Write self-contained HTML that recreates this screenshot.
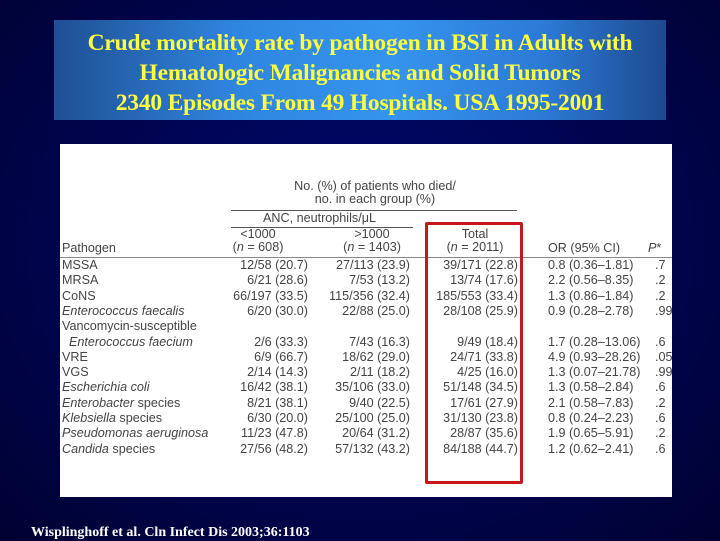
<!DOCTYPE html>
<html><head><meta charset="utf-8"><style>
body{margin:0;width:720px;height:540px;overflow:hidden;background:radial-gradient(ellipse at 50% 45%,#00086e 0%,#00044e 55%,#000232 100%);position:relative;font-family:"Liberation Sans",sans-serif}
#title{position:absolute;left:54px;top:20px;width:612px;height:100px;background:linear-gradient(90deg,#1f4f93 0%,#2f86e0 30%,#3594ee 55%,#2c7ad6 80%,#1d4a8e 100%);color:#ffff40;font-family:"Liberation Serif",serif;font-weight:bold;font-size:23.5px;line-height:30px;text-align:center;padding-top:8px;box-sizing:border-box;letter-spacing:-0.2px}
#tbl{position:absolute;left:60px;top:144px;width:612px;height:353px;background:#fff;color:#444;font-size:12.6px}
.c{position:absolute;white-space:nowrap}
.r{text-align:right}
.ctr{text-align:center;transform:translateX(-50%)}
.ln{position:absolute;height:1px;background:#555}
#box{position:absolute;left:365px;top:78px;width:92px;height:256px;border:3px solid #c8161d;border-radius:2px}
#cite{position:absolute;left:31px;top:525px;color:#fff;font-family:"Liberation Serif",serif;font-weight:bold;font-size:14px}
i{font-style:italic}
</style></head><body>
<div id="title">Crude mortality rate by pathogen in BSI in Adults with<br>Hematologic Malignancies and Solid Tumors<br>2340 Episodes From 49 Hospitals. USA 1995-2001</div>
<div id="tbl">
<div class="c ctr" style="left:315px;top:36px;line-height:13px">No. (%) of patients who died/<br>no. in each group (%)</div>
<div class="ln" style="left:171px;top:66px;width:286px"></div>
<div class="c" style="left:203px;top:67px">ANC, neutrophils/μL</div>
<div class="ln" style="left:171px;top:83px;width:182px"></div>
<div class="c ctr" style="left:198px;top:84px;line-height:13px">&lt;1000<br>(<i>n</i> = 608)</div>
<div class="c ctr" style="left:312px;top:84px;line-height:13px">&gt;1000<br>(<i>n</i> = 1403)</div>
<div class="c ctr" style="left:415px;top:84px;line-height:13px">Total<br>(<i>n</i> = 2011)</div>
<div class="c" style="left:2px;top:97px">Pathogen</div>
<div class="c" style="left:488px;top:97px">OR (95% CI)</div>
<div class="c" style="left:588px;top:97px"><i>P</i>*</div>
<div class="ln" style="left:0;top:113px;width:612px;background:#888"></div>
<div id="box"></div>
<div id="rows"></div>
</div>
<div id="cite">Wisplinghoff et al. Cln Infect Dis 2003;36:1103</div>
<script>
const names=["MSSA","MRSA","CoNS","<i>Enterococcus faecalis</i>","Vancomycin-susceptible","&nbsp;&nbsp;<i>Enterococcus faecium</i>","VRE","VGS","<i>Escherichia coli</i>","<i>Enterobacter</i> species","<i>Klebsiella</i> species","<i>Pseudomonas aeruginosa</i>","<i>Candida</i> species"];
const low=["12/58 (20.7)","6/21 (28.6)","66/197 (33.5)","6/20 (30.0)","","2/6 (33.3)","6/9 (66.7)","2/14 (14.3)","16/42 (38.1)","8/21 (38.1)","6/30 (20.0)","11/23 (47.8)","27/56 (48.2)"];
const high=["27/113 (23.9)","7/53 (13.2)","115/356 (32.4)","22/88 (25.0)","","7/43 (16.3)","18/62 (29.0)","2/11 (18.2)","35/106 (33.0)","9/40 (22.5)","25/100 (25.0)","20/64 (31.2)","57/132 (43.2)"];
const total=["39/171 (22.8)","13/74 (17.6)","185/553 (33.4)","28/108 (25.9)","","9/49 (18.4)","24/71 (33.8)","4/25 (16.0)","51/148 (34.5)","17/61 (27.9)","31/130 (23.8)","28/87 (35.6)","84/188 (44.7)"];
const ors=["0.8 (0.36–1.81)","2.2 (0.56–8.35)","1.3 (0.86–1.84)","0.9 (0.28–2.78)","","1.7 (0.28–13.06)","4.9 (0.93–28.26)","1.3 (0.07–21.78)","1.3 (0.58–2.84)","2.1 (0.58–7.83)","0.8 (0.24–2.23)","1.9 (0.65–5.91)","1.2 (0.62–2.41)"];
const pv=[".7",".2",".2",".99","",".6",".05",".99",".6",".2",".6",".2",".6"];
const rows=document.getElementById('rows');
function cell(html,left,top,right){const d=document.createElement('div');d.className='c'+(right?' r':'');d.innerHTML=html;d.style.top=top+'px';if(right){d.style.right=(612-left)+'px';}else d.style.left=left+'px';


rows.appendChild(d);}
names.forEach((n,i)=>{const y=114+i*15.3;
cell(n,2,y,false);cell(low[i],248,y,true);cell(high[i],350,y,true);cell(total[i],458,y,true);cell(ors[i],488,y,false);cell(pv[i],595,y,false);});
</script>
</body></html>
